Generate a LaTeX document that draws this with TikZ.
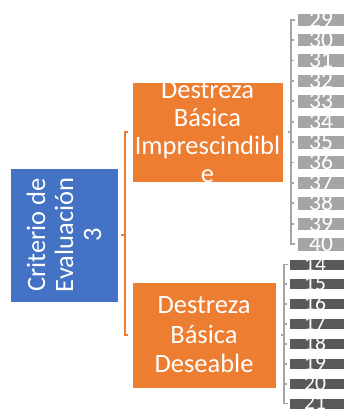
\documentclass[tikz,border=0pt]{standalone}
\usepackage{fontspec}
\setmainfont{Carlito}
\usetikzlibrary{calc}
\definecolor{accentorange}{HTML}{ED7D31}
\definecolor{accentblue}{HTML}{4472C4}
\definecolor{lightgrey}{HTML}{A5A5A5}
\definecolor{darkgrey}{HTML}{595959}
\tikzset{
  shapebox/.style={rectangle, draw=white, line width=0.8pt, inner sep=0pt},
  rootbox/.style={shapebox, fill=accentblue, minimum width=108pt, minimum height=134pt},
  levelbox/.style={shapebox, fill=accentorange},
  leafbox/.style={shapebox, fill=lightgrey, anchor=west, minimum width=52pt, minimum height=13.5pt},
  darkleaf/.style={shapebox, fill=darkgrey, anchor=west, minimum width=60pt, minimum height=11pt},
  bigtext/.style={text=white, align=center, inner sep=0pt},
  leafnum/.style={text=white, inner sep=0pt, text height=14.6pt, text depth=0pt,
    font=\fontsize{23.5}{23.5}\selectfont},
  darknum/.style={text=white, inner sep=0pt, text height=13pt, text depth=0pt,
    font=\fontsize{21.5}{21.5}\selectfont},
  orangebracket/.style={draw=accentorange, line width=2pt},
  greybracket/.style={draw=lightgrey, line width=1.8pt},
}
\begin{document}
\begin{tikzpicture}[x=1pt,y=-1pt]
\useasboundingbox (0,0) rectangle (344,409);
\clip (0,0) rectangle (344,409);

% root
\node[rootbox] (root) at (64,235) {};
\node[bigtext, rotate=90, font=\fontsize{26.5}{28}\selectfont] (roottext) at (root.center)
  {Criterio de\\Evaluación\\3};

% second level
\node[levelbox, minimum width=151pt, minimum height=100pt] (imp) at (207.5,132) {};
\node[bigtext, font=\fontsize{26.5}{28.2}\selectfont] (imptext) at (imp.center)
  {Destreza\\Básica\\Imprescindibl\\e};
\node[levelbox, minimum width=144pt, minimum height=106pt] (des) at (204,335) {};
\node[bigtext, font=\fontsize{26.5}{29.5}\selectfont] (destext) at (des.center)
  {Destreza\\Básica\\Deseable};

% leaves under Imprescindible
\foreach \n [count=\i from 0] in {29,...,40} {
  \node[leafbox] (g\n) at (297,{19.75+20.4*\i}) {};
  \node[leafnum] (g\n t) at ($(g\n.west)+(24,0)$) {\n};
}
% leaves under Deseable
\foreach \n [count=\i from 0] in {14,...,21} {
  \node[darkleaf] (d\n) at (289,{264.5+19.85*\i}) {};
  \node[darknum] (d\n t) at ($(d\n.west)+(26,0)$) {\n};
}

% bracket joining the root to the second level
\draw[orangebracket] ([xshift=-4pt]imp.west) -- ([xshift=-7pt]imp.west)
  -- ([xshift=-7pt]des.west) -- ([xshift=-4pt]des.west);
\draw[orangebracket] ([xshift=-7pt]imp.west |- root.east) -- ([xshift=3pt]root.east);

% bracket for the Imprescindible leaves
\draw[greybracket] ([xshift=-2pt]g29.west) -- ([xshift=-6pt]g29.west)
  -- ([xshift=-6pt]g40.west) -- ([xshift=-2pt]g40.west);
\foreach \n in {30,...,39}
  \draw[greybracket] ([xshift=-6pt]g\n.west) -- ([xshift=-3pt]g\n.west);
\draw[greybracket] ([xshift=-6pt]g29.west |- imp.east) -- ([xshift=-9pt]g29.west |- imp.east);

% bracket for the Deseable leaves
\draw[greybracket] ([xshift=-1pt]d14.west) -- ([xshift=-5pt]d14.west)
  -- ([xshift=-5pt]d21.west) -- ([xshift=-1pt]d21.west);
\foreach \n in {15,...,20}
  \draw[greybracket] ([xshift=-5pt]d\n.west) -- ([xshift=-2pt]d\n.west);
\draw[greybracket] ([xshift=-5pt]d14.west |- des.east) -- ([xshift=-8pt]d14.west |- des.east);
\end{tikzpicture}
\end{document}
